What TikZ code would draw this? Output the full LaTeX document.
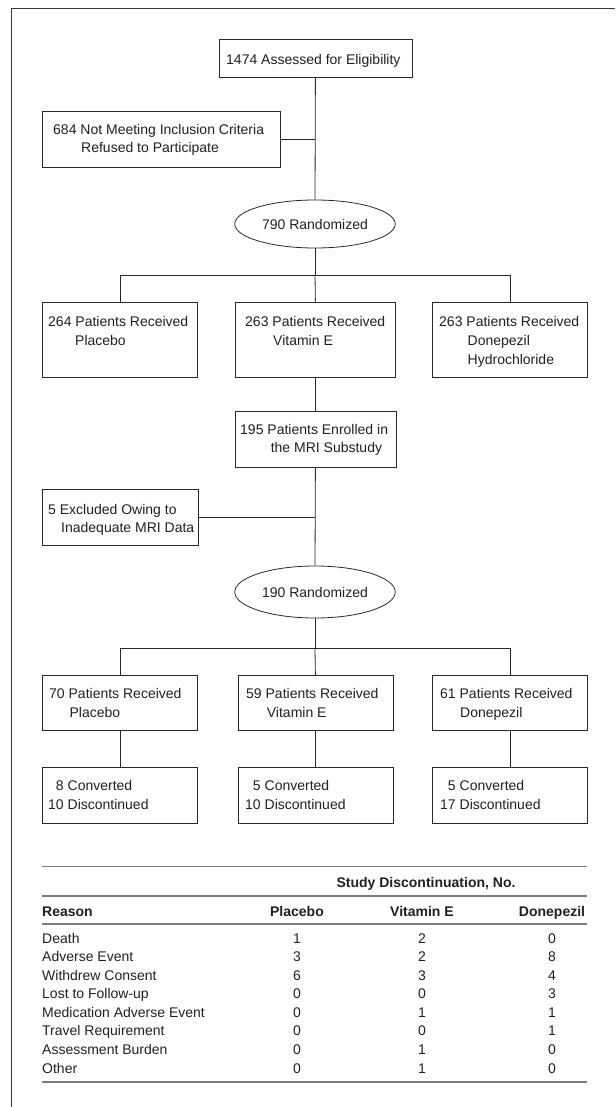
\documentclass[tikz,border=0pt]{standalone}
\usepackage{fontspec}
\setmainfont{Liberation Sans}
\usetikzlibrary{shapes.geometric}
\definecolor{ink}{RGB}{35,31,32}
\definecolor{linec}{RGB}{40,40,40}
\definecolor{rulec}{RGB}{125,125,125}
\definecolor{framec}{RGB}{55,55,55}
\newcommand\putline[4]{\node[txt] (#1) at (#2,#3) {#4};}
\begin{document}
\begin{tikzpicture}[x=1pt,y=-1pt,
  font=\fontsize{14}{18}\selectfont,
  box/.style={draw=linec, line width=0.8pt, inner sep=0pt, anchor=north west},
  oval/.style={draw=linec, line width=0.8pt, ellipse, inner sep=0pt, minimum width=160.5pt, text=ink},
  txt/.style={anchor=base west, inner sep=0pt, text=ink},
  num/.style={anchor=base, inner sep=0pt, text=ink},
  conn/.style={draw=linec, line width=0.8pt},
  tabrule/.style={draw=rulec, line width=1.4pt},
  frame/.style={draw=framec, line width=1.2pt}]
\useasboundingbox (0,0) rectangle (615,1107);
\draw[frame] (11.5,1107) -- (11.5,8.3) -- (615,8.3);

% top part
\node[box, minimum width=193pt, minimum height=38pt] (b1) at (218.5,39.3) {};
\putline{t1}{226}{65}{1474 Assessed for Eligibility}
\node[box, minimum width=238pt, minimum height=55.7pt] (b2) at (42,111) {};
\putline{t2a}{53}{135}{684 Not Meeting Inclusion Criteria}
\putline{t2b}{81}{153}{Refused to Participate}
\node[oval, minimum height=48pt] (e1) at (315,224) {790 Randomized};

\draw[conn] (b1.south) -- (e1.north);
\draw[conn] (b2.east) -- (b2.east -| b1.south);

% first arms
\coordinate (br1) at (315,275);
\node[box, minimum width=155pt, minimum height=75pt] (bA) at (42,301.7) {};
\node[box, minimum width=160.5pt, minimum height=75pt] (bB) at (234.75,301.7) {};
\node[box, minimum width=155pt, minimum height=75pt] (bC) at (432,301.7) {};
\putline{tAa}{48}{326}{264 Patients Received}
\putline{tAb}{75}{345}{Placebo}
\putline{tBa}{245}{326}{263 Patients Received}
\putline{tBb}{273}{345}{Vitamin E}
\putline{tCa}{439}{326}{263 Patients Received}
\putline{tCb}{467.5}{345}{Donepezil}
\putline{tCc}{467.5}{364}{Hydrochloride}
\draw[conn] (e1.south) -- (br1);
\draw[conn] (bA.north) |- (br1);
\draw[conn] (bC.north) |- (br1);
\draw[conn] (br1) -- (bB.north);

% MRI substudy
\node[box, minimum width=161pt, minimum height=56pt] (bD) at (234.5,410.7) {};
\putline{tDa}{240}{434}{195 Patients Enrolled in}
\putline{tDb}{270.6}{452}{the MRI Substudy}
\draw[conn] (bB.south) -- (bD.north);
\node[box, minimum width=156pt, minimum height=55.7pt] (bE) at (42,489.3) {};
\putline{tEa}{48}{514}{5 Excluded Owing to}
\putline{tEb}{61}{532}{Inadequate MRI Data}
\node[oval, minimum height=52pt] (e2) at (315,592) {190 Randomized};
\draw[conn] (bD.south) -- (e2.north);
\draw[conn] (bE.east) -- (bE.east -| bD.south);

% second arms
\coordinate (br2) at (315,648.3);
\node[box, minimum width=155pt, minimum height=55pt] (fA) at (42,675) {};
\node[box, minimum width=155pt, minimum height=55pt] (fB) at (237.5,675) {};
\node[box, minimum width=155pt, minimum height=55pt] (fC) at (432,675) {};
\putline{fAa}{49}{698}{70 Patients Received}
\putline{fAb}{69.4}{717}{Placebo}
\putline{fBa}{246}{698}{59 Patients Received}
\putline{fBb}{266.7}{717}{Vitamin E}
\putline{fCa}{440}{698}{61 Patients Received}
\putline{fCb}{460}{717}{Donepezil}
\draw[conn] (e2.south) -- (br2);
\draw[conn] (fA.north) |- (br2);
\draw[conn] (fC.north) |- (br2);
\draw[conn] (br2) -- (fB.north);

% outcomes
\node[box, minimum width=155pt, minimum height=56pt] (gA) at (42,767.3) {};
\node[box, minimum width=155pt, minimum height=56pt] (gB) at (237.5,767.3) {};
\node[box, minimum width=155pt, minimum height=56pt] (gC) at (432,767.3) {};
\putline{gAa}{48}{790.7}{\phantom{1}8 Converted}
\putline{gAb}{48}{809.3}{10 Discontinued}
\putline{gBa}{245}{790.7}{\phantom{1}5 Converted}
\putline{gBb}{245}{809.3}{10 Discontinued}
\putline{gCa}{440}{790.7}{\phantom{1}5 Converted}
\putline{gCb}{440}{809.3}{17 Discontinued}
\draw[conn] (fA.south) -- (gA.north);
\draw[conn] (fB.south) -- (gB.north);
\draw[conn] (fC.south) -- (gC.north);

% table
\draw[tabrule] (42,866.7) -- (587,866.7);
\draw[tabrule] (42,896) -- (587,896);
\draw[tabrule] (42,924) -- (587,924);
\draw[tabrule] (42,1082) -- (587,1082);
\node[num, font=\fontsize{14}{18}\selectfont\bfseries] (th) at (426,887.3) {Study Discontinuation, No.};
\node[txt, font=\fontsize{14}{18}\selectfont\bfseries] (hR) at (42,916.7) {Reason};
\node[num, font=\fontsize{14}{18}\selectfont\bfseries] (hP) at (297,916.7) {Placebo};
\node[num, font=\fontsize{14}{18}\selectfont\bfseries] (hV) at (422,916.7) {Vitamin E};
\node[num, font=\fontsize{14}{18}\selectfont\bfseries] (hD) at (552,916.7) {Donepezil};
\foreach \lab/\va/\vb/\vc [count=\i] in {Death/1/2/0, Adverse Event/3/2/8, Withdrew Consent/6/3/4, Lost to Follow-up/0/0/3, Medication Adverse Event/0/1/1, Travel Requirement/0/0/1, Assessment Burden/0/1/0, Other/0/1/0} {
  \node[txt] (r\i) at (42,{943+18.57*(\i-1)}) {\lab};
  \node[num] (rp\i) at (297,{943+18.57*(\i-1)}) {\va};
  \node[num] (rv\i) at (422,{943+18.57*(\i-1)}) {\vb};
  \node[num] (rd\i) at (552,{943+18.57*(\i-1)}) {\vc};
}
\end{tikzpicture}
\end{document}
